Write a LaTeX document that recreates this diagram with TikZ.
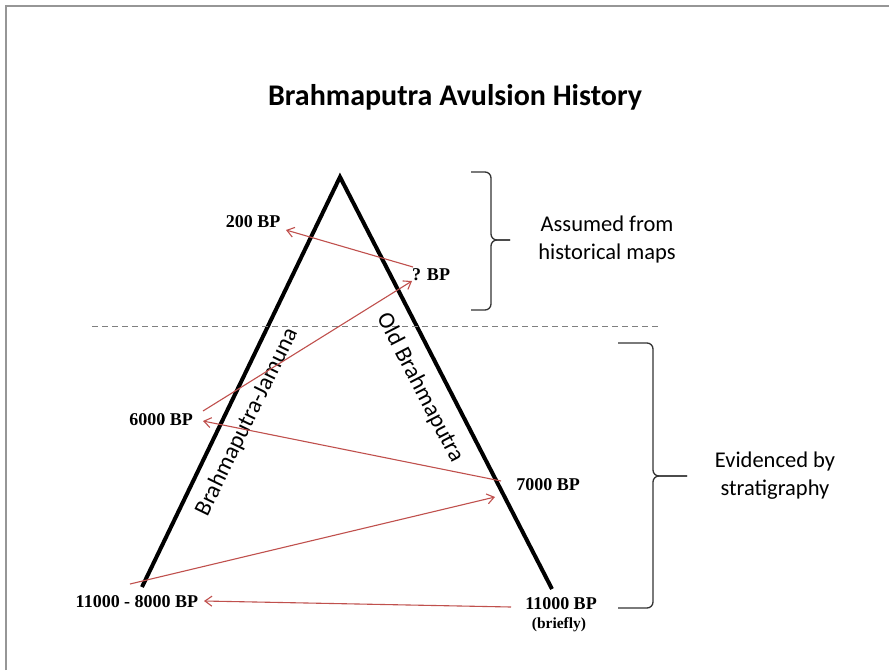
\documentclass[tikz,border=0pt]{standalone}
\usepackage{fontspec}
\setmainfont{Liberation Serif}
\newfontfamily\calib{Carlito}
\usetikzlibrary{arrows.meta}
\definecolor{arrred}{RGB}{192,80,77}
\definecolor{framegray}{RGB}{150,150,150}
\tikzset{
  bp/.style={font=\fontsize{18}{20}\selectfont\bfseries, inner sep=0pt},
  side/.style={font=\calib\fontsize{23.5}{26}\selectfont, inner sep=0pt},
  bracetxt/.style={font=\calib\fontsize{22.5}{28}\selectfont, align=center, inner sep=0pt},
  flow/.style={draw=arrred, line width=1.1pt, -{Straight Barb[length=7pt,width=10pt]}},
  bank/.style={line width=4pt, line join=miter, line cap=butt},
  brace/.style={draw=black!80, line width=1.3pt, rounded corners=6pt}
}
\begin{document}
\begin{tikzpicture}[x=1pt,y=-1pt]
\useasboundingbox (0,0) rectangle (889,670);
\fill[white] (0,0) rectangle (889,670);
% frame
\draw[framegray, line width=2pt] (6,670) -- (6,6) -- (889,6);
% title
\node[font=\calib\fontsize{30}{33}\selectfont\bfseries, inner sep=0pt] (title) at (455,97) {Brahmaputra Avulsion History};
% triangle
\coordinate (apex) at (340,177);
\coordinate (lb) at (142,587);
\coordinate (rb) at (552,589);
\draw[bank] (lb) -- (apex) -- (rb);
% dashed line
\coordinate (d1) at (92,326);
\coordinate (d2) at (660,326);
\draw[gray, line width=1pt, dash pattern=on 6pt off 4pt] (d1) -- (d2);
% river labels
\node[side, rotate=64] (bj) at (247,422) {Brahmaputra-Jamuna};
\node[side, rotate=-62.6] (ob) at (420,388) {Old Brahmaputra};
% BP labels
\node[bp] (l200) at (253,222) {200 BP};
\node[bp] (lq) at (431,275) {? BP};
\node[bp] (l6000) at (161,420) {6000 BP};
\node[bp] (l7000) at (548,485) {7000 BP};
\node[bp] (l11k8k) at (137,602) {11000 - 8000 BP};
\node[bp] (l11k) at (561,604) {11000 BP};
\node[font=\fontsize{15.5}{17}\selectfont\bfseries, inner sep=0pt] (brief) at (559,625) {(briefly)};
% arrow end points
\coordinate (a1s) at (413,267);
\coordinate (a1e) at (286,230);
\coordinate (a2s) at (203,411);
\coordinate (a2e) at (412,281);
\coordinate (a3s) at (501,481);
\coordinate (a3e) at (203,421);
\coordinate (a4s) at (130,584);
\coordinate (a4e) at (495,497);
\coordinate (a5s) at (511,607);
\coordinate (a5e) at (204,601);
\draw[flow] (a1s) -- (a1e);
\draw[flow] (a2s) -- (a2e);
\draw[flow] (a3s) -- (a3e);
\draw[flow] (a4s) -- (a4e);
\draw[flow] (a5s) -- (a5e);
% braces
\coordinate (b1t) at (471,172);
\coordinate (b1m) at (510,240);
\coordinate (b1b) at (471,310);
\draw[brace] (b1t) -- (491,172) -- (491,240) -- (b1m);
\draw[brace] (b1m) -- (491,240) -- (491,310) -- (b1b);
\coordinate (b2t) at (618,343);
\coordinate (b2m) at (687,476);
\coordinate (b2b) at (618,608);
\draw[brace] (b2t) -- (653,343) -- (653,476) -- (b2m);
\draw[brace] (b2m) -- (653,476) -- (653,608) -- (b2b);
\node[bracetxt] (t1) at (607,239) {Assumed from\\historical maps};
\node[bracetxt] (t2) at (775,476) {Evidenced by\\stratigraphy};
\end{tikzpicture}
\end{document}
